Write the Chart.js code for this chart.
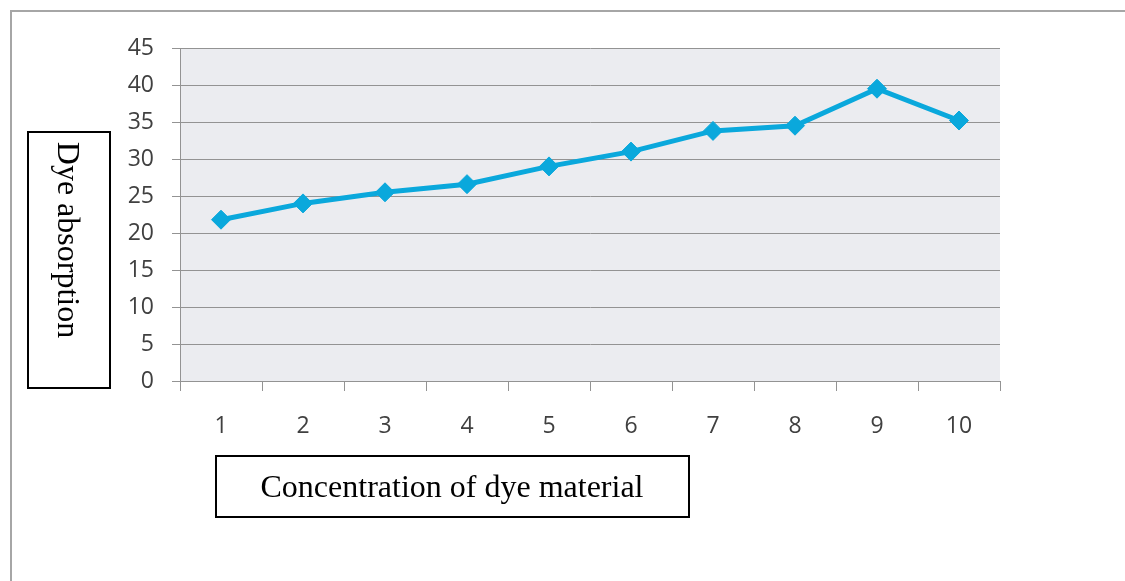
<!DOCTYPE html>
<html lang="en">
<head>
    <meta charset="UTF-8">
    <title>Dye absorption</title>
    <script src="https://cdn.jsdelivr.net/npm/chart.js"></script>
    <style>
        html, body { margin: 0; padding: 0; background: #ffffff; overflow: hidden; }
        .frame { position: absolute; left: 10px; top: 10px; width: 1300px; height: 800px; border: 2px solid #a6a6a6; }
        .wrap { position: absolute; left: 0; top: 0; width: 1125px; height: 581px; }
    </style>
</head>
<body>
    <div class="frame"></div>
    <div class="wrap"><canvas id="grafico"></canvas></div>

    <script>
        // datos
        const concentracion = ['1', '2', '3', '4', '5', '6', '7', '8', '9', '10'];
        const absorcion = [21.8, 24.0, 25.5, 26.6, 29.0, 31.0, 33.8, 34.5, 39.5, 35.2];
        const yTicks = [0, 5, 10, 15, 20, 25, 30, 35, 40, 45];

        const tituloY = 'Dye absorption';
        const tituloX = 'Concentration of dye material';

        // fondo gris del area de trazado
        const fondoPlot = {
            id: 'fondoPlot',
            beforeDraw(chart) {
                const { ctx, chartArea: a } = chart;
                ctx.save();
                ctx.fillStyle = '#ebecf0';
                ctx.fillRect(a.left, a.top, a.right - a.left, a.bottom - a.top);
                ctx.restore();
            }
        };

        // titulos de ejes dentro de recuadros
        const cajasTitulo = {
            id: 'cajasTitulo',
            afterDraw(chart) {
                const ctx = chart.ctx;
                ctx.save();
                ctx.lineWidth = 2;
                ctx.strokeStyle = '#000000';
                ctx.fillStyle = '#ffffff';
                ctx.fillRect(28, 132, 82, 256);
                ctx.strokeRect(28, 132, 82, 256);
                ctx.fillRect(216, 456, 473, 61);
                ctx.strokeRect(216, 456, 473, 61);

                ctx.fillStyle = '#000000';
                ctx.font = '32px "Liberation Serif", "Times New Roman", serif';
                ctx.textAlign = 'center';
                ctx.textBaseline = 'middle';
                ctx.fillText(tituloX, 452, 489);

                ctx.translate(66, 240);
                ctx.rotate(Math.PI / 2);
                ctx.fillText(tituloY, 0, 0);
                ctx.restore();
            }
        };

        const ctx = document.getElementById('grafico').getContext('2d');
        new Chart(ctx, {
            type: 'line',
            data: {
                labels: concentracion,
                datasets: [{
                    data: absorcion,
                    borderColor: '#0aa8dc',
                    backgroundColor: '#0aa8dc',
                    borderWidth: 5,
                    pointStyle: 'rectRot',
                    pointRadius: 9.5,
                    pointBorderWidth: 1,
                    tension: 0,
                    fill: false
                }]
            },
            options: {
                responsive: true,
                maintainAspectRatio: false,
                animation: false,
                layout: { padding: { left: 0, top: 48, right: 125, bottom: 140 } },
                plugins: {
                    legend: { display: false },
                    tooltip: { enabled: false }
                },
                scales: {
                    x: {
                        offset: true,
                        grid: {
                            offset: true,
                            drawOnChartArea: false,
                            drawTicks: true,
                            tickLength: 10,
                            color: '#939393',
                            lineWidth: 1
                        },
                        border: { color: '#939393', width: 1 },
                        ticks: {
                            color: '#404040',
                            font: { family: '"Open Sans", sans-serif', size: 23 },
                            padding: 22,
                            maxRotation: 0
                        },
                        afterFit(scale) { scale.height = 60; }
                    },
                    y: {
                        min: 0,
                        max: 45,
                        afterBuildTicks(scale) { scale.ticks = yTicks.map(v => ({ value: v })); },
                        grid: {
                            color: '#939393',
                            lineWidth: 1,
                            drawTicks: true,
                            tickLength: 8
                        },
                        border: { color: '#939393', width: 1 },
                        ticks: {
                            color: '#404040',
                            font: { family: '"Open Sans", sans-serif', size: 23 },
                            padding: 18
                        },
                        afterFit(scale) { scale.width = 180; }
                    }
                }
            },
            plugins: [fondoPlot, cajasTitulo]
        });
    </script>
</body>
</html>
